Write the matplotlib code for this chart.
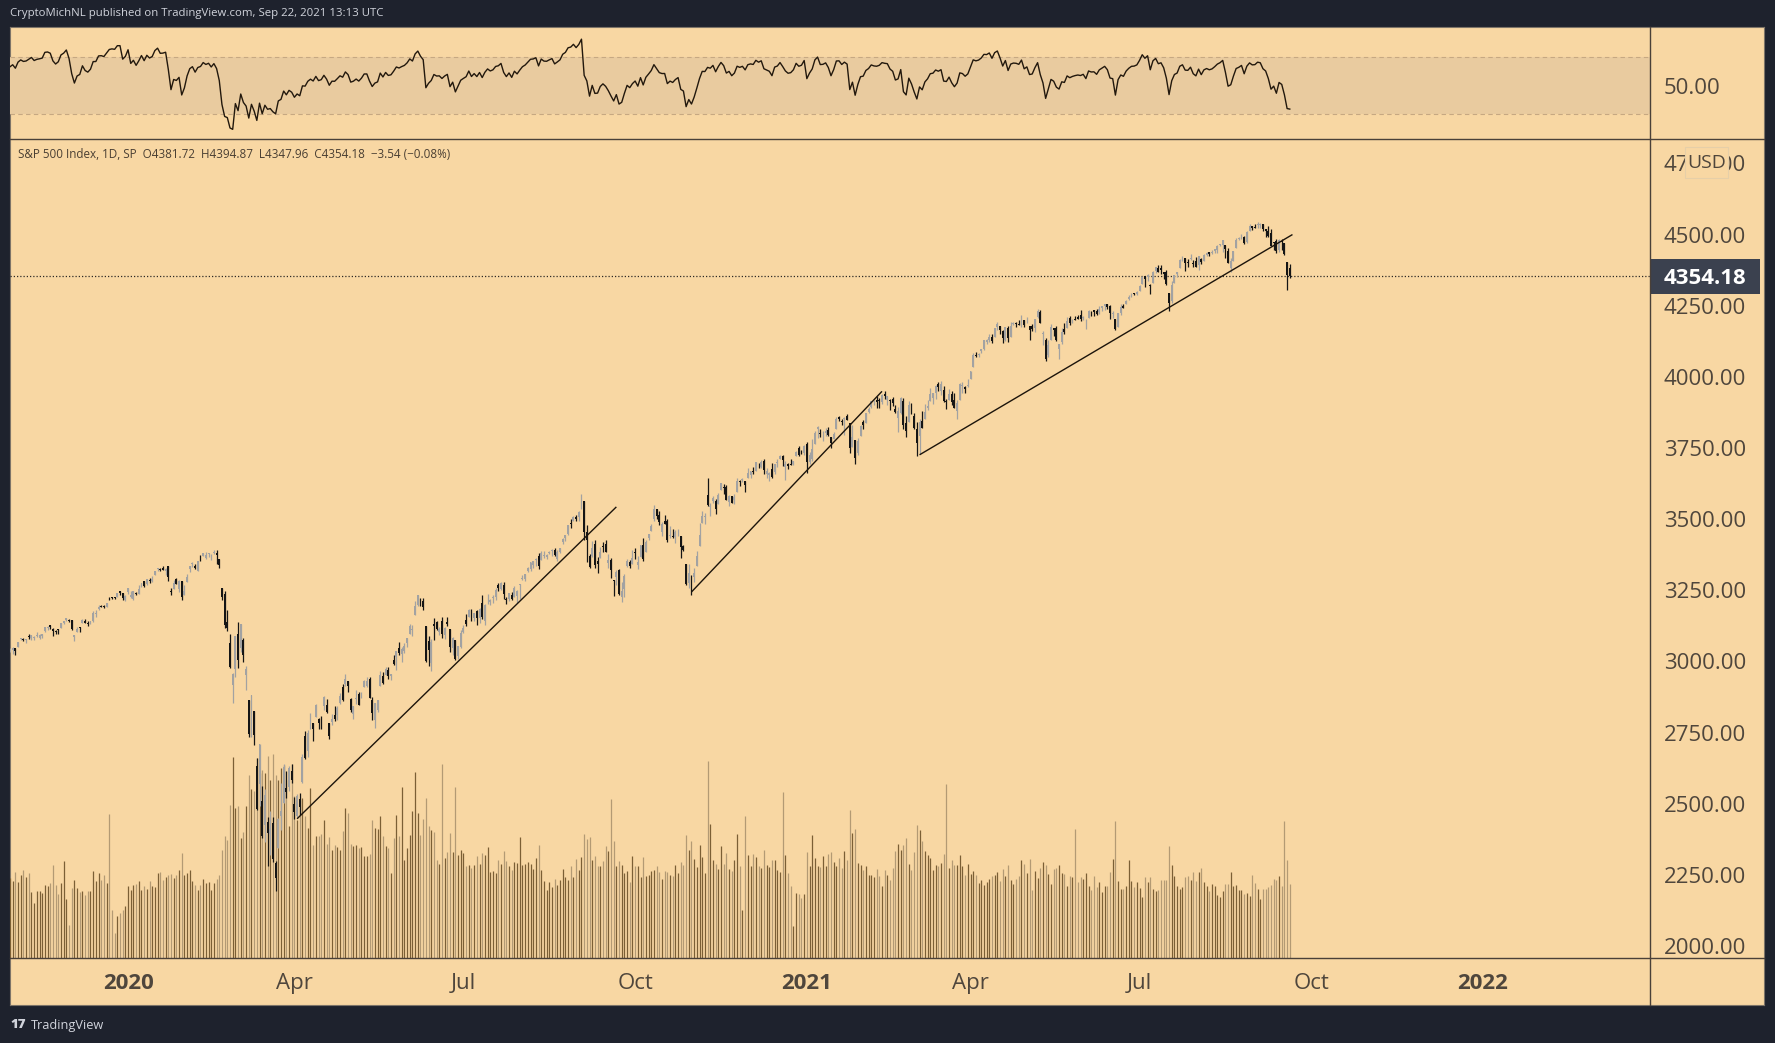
import numpy as np
import pandas as pd
import matplotlib
matplotlib.use("Agg")
import matplotlib.pyplot as plt
from matplotlib.patches import Rectangle
from matplotlib.lines import Line2D
import matplotlib.transforms as mtransforms

plt.rcParams['font.family'] = ['Open Sans', 'DejaVu Sans']

# ---------------- DATA ----------------
holidays = ['2019-11-28', '2019-12-25', '2020-01-01', '2020-01-20', '2020-02-17', '2020-04-10',
            '2020-05-25', '2020-07-03', '2020-09-07', '2020-11-26', '2020-12-25', '2021-01-01',
            '2021-01-18', '2021-02-15', '2021-04-02', '2021-05-31', '2021-07-05', '2021-09-06',
            '2021-11-25', '2021-12-24']
first_day = '2019-10-29'

# closes before the first visible bar (used only to warm up the RSI)
rsi_seed_closes = [2940.25, 2887.61, 2910.63, 2952.01, 2938.79, 2893.06, 2919.40, 2938.13, 2970.27, 2966.15,
                   2995.68, 2989.69, 2997.95, 2986.20, 3006.72, 2995.99, 3004.52, 3010.29, 3022.55, 3039.42]

opens = [
    3035, 3039, 3047,
    3050, 3078, 3080, 3076, 3087, 3081, 3081, 3089, 3084, 3091, 3107, 3118, 3128, 3115, 3108, 3112, 3118, 3135, 3145, 3147,
    3144, 3087, 3103, 3119, 3134, 3141, 3135, 3135, 3141, 3166, 3183, 3195, 3195, 3192, 3223, 3226, 3225, 3227, 3247, 3240, 3216,
    3245, 3226, 3218, 3242, 3238, 3267, 3281, 3271, 3285, 3282, 3302, 3324, 3321, 3330, 3316, 3334, 3248, 3255, 3289, 3256, 3282,
    3235, 3280, 3324, 3344, 3335, 3319, 3365, 3370, 3365, 3378, 3369, 3381, 3380, 3360, 3258, 3238, 3140, 3063, 2917,
    2974, 3096, 3046, 3075, 2954, 2863, 2813, 2825, 2631, 2569, 2509, 2425, 2436, 2394, 2431, 2291, 2345, 2458, 2502, 2556, 2558, 2614,
    2499, 2458, 2515, 2578, 2738, 2686, 2776, 2782, 2805, 2797, 2800, 2843, 2846, 2785, 2787, 2810, 2813, 2855, 2909, 2919, 2930,
    2869, 2815, 2868, 2884, 2879, 2909, 2915, 2939, 2865, 2795, 2829, 2913, 2948, 2953, 2970, 2948, 3005, 3016, 3047, 3026,
    3038, 3064, 3098, 3112, 3163, 3199, 3213, 3213, 3123, 3072, 2993, 3131, 3137, 3102, 3141, 3094, 3139, 3115, 3047, 3074, 3018, 3051,
    3105, 3144, 3156, 3166, 3154, 3176, 3152, 3205, 3142, 3225, 3209, 3224, 3225, 3268, 3255, 3269, 3218, 3219, 3234, 3228, 3231, 3270,
    3288, 3289, 3317, 3323, 3340, 3357, 3370, 3355, 3372, 3368, 3380, 3387, 3392, 3360, 3386, 3418, 3435, 3449, 3486, 3494, 3509,
    3507, 3543, 3564, 3454, 3371, 3369, 3412, 3353, 3364, 3407, 3411, 3347, 3357, 3285, 3295, 3320, 3226, 3256, 3334, 3350, 3342,
    3385, 3339, 3367, 3408, 3384, 3434, 3459, 3500, 3535, 3515, 3453, 3493, 3494, 3439, 3440, 3438, 3464, 3441, 3404, 3342, 3277, 3294,
    3296, 3336, 3406, 3486, 3509, 3584, 3543, 3563, 3562, 3552, 3601, 3610, 3612, 3559, 3580, 3566, 3594, 3635, 3638, 3634,
    3645, 3654, 3669, 3670, 3694, 3683, 3706, 3659, 3656, 3676, 3667, 3696, 3713, 3722, 3684, 3694, 3693, 3694, 3723, 3750, 3736, 3734,
    3764, 3699, 3712, 3764, 3816, 3803, 3801, 3802, 3814, 3788, 3782, 3816, 3858, 3844, 3851, 3863, 3837, 3755, 3778,
    3731, 3792, 3840, 3837, 3878, 3893, 3910, 3920, 3917, 3911, 3940, 3918, 3915, 3922, 3886, 3857, 3874, 3916, 3839,
    3842, 3903, 3863, 3818, 3793, 3844, 3852, 3891, 3916, 3925, 3943, 3974, 3949, 3953, 3914, 3917, 3938, 3920, 3879, 3917, 3969, 3964, 3967,
    3993, 4035, 4076, 4075, 4090, 4097, 4124, 4130, 4141, 4139, 4175, 4179, 4160, 4128, 4171, 4139, 4185, 4188, 4185, 4207, 4198,
    4191, 4179, 4178, 4170, 4210, 4228, 4150, 4131, 4075, 4129, 4170, 4170, 4098, 4121, 4169, 4170, 4205, 4192, 4201, 4210,
    4217, 4207, 4191, 4207, 4229, 4234, 4233, 4229, 4243, 4248, 4255, 4248, 4221, 4204, 4174, 4225, 4249, 4256, 4274, 4285, 4293, 4291,
    4300, 4326, 4356, 4351, 4321, 4329, 4372, 4382, 4381, 4369, 4368, 4296, 4266, 4331, 4361, 4382, 4409, 4416, 4402, 4413, 4396,
    4406, 4392, 4415, 4408, 4429, 4437, 4435, 4442, 4446, 4464, 4462, 4462, 4441, 4383, 4406, 4451, 4485, 4490, 4493, 4474, 4514, 4529,
    4528, 4534, 4532, 4536, 4518, 4514, 4506, 4474, 4479, 4447, 4477, 4470, 4402, 4381.72,
]

highs = [
    3047, 3050, 3047,
    3067, 3084, 3083, 3079, 3098, 3094, 3089, 3102, 3098, 3098, 3121, 3124, 3128, 3119, 3110, 3113, 3134, 3142, 3154, 3150,
    3145, 3094, 3120, 3120, 3150, 3148, 3143, 3143, 3176, 3182, 3198, 3198, 3199, 3206, 3226, 3228, 3226, 3240, 3248, 3240, 3232,
    3258, 3246, 3247, 3245, 3268, 3275, 3282, 3288, 3294, 3299, 3317, 3330, 3329, 3337, 3327, 3334, 3258, 3285, 3293, 3285, 3282,
    3268, 3306, 3337, 3348, 3341, 3352, 3375, 3381, 3386, 3381, 3376, 3393, 3390, 3360, 3259, 3247, 3182, 3098, 2960,
    3091, 3137, 3130, 3083, 2985, 2863, 2883, 2825, 2660, 2711, 2562, 2553, 2453, 2473, 2453, 2300, 2450, 2572, 2638, 2616, 2631, 2641,
    2523, 2534, 2538, 2676, 2756, 2760, 2818, 2782, 2851, 2801, 2807, 2879, 2868, 2785, 2815, 2844, 2842, 2888, 2922, 2955, 2930,
    2870, 2845, 2898, 2892, 2892, 2933, 2945, 2945, 2875, 2853, 2865, 2968, 2964, 2981, 2979, 2956, 3021, 3036, 3068, 3049,
    3063, 3081, 3130, 3129, 3212, 3233, 3223, 3223, 3124, 3089, 3079, 3153, 3141, 3121, 3156, 3120, 3155, 3115, 3087, 3074, 3054, 3112,
    3128, 3165, 3183, 3184, 3171, 3180, 3186, 3235, 3200, 3238, 3220, 3233, 3258, 3277, 3279, 3280, 3228, 3241, 3244, 3264, 3250, 3273,
    3302, 3307, 3331, 3351, 3353, 3364, 3381, 3387, 3388, 3378, 3387, 3395, 3399, 3390, 3399, 3432, 3444, 3481, 3501, 3510, 3514,
    3528, 3588, 3564, 3479, 3379, 3424, 3425, 3368, 3402, 3419, 3428, 3376, 3363, 3285, 3321, 3323, 3278, 3306, 3360, 3357, 3393,
    3397, 3369, 3409, 3432, 3426, 3447, 3482, 3550, 3535, 3527, 3489, 3515, 3502, 3476, 3465, 3461, 3466, 3441, 3409, 3342, 3341, 3305,
    3330, 3389, 3486, 3529, 3521, 3646, 3557, 3581, 3570, 3593, 3628, 3624, 3620, 3586, 3582, 3589, 3643, 3636, 3644, 3634,
    3678, 3670, 3682, 3700, 3697, 3708, 3712, 3678, 3666, 3698, 3695, 3711, 3726, 3726, 3703, 3698, 3711, 3704, 3740, 3756, 3744, 3760,
    3770, 3737, 3783, 3811, 3827, 3817, 3810, 3820, 3823, 3788, 3805, 3859, 3862, 3852, 3860, 3871, 3837, 3830, 3778,
    3784, 3831, 3847, 3872, 3894, 3916, 3919, 3931, 3925, 3938, 3950, 3933, 3921, 3930, 3902, 3895, 3928, 3925, 3861,
    3915, 3907, 3874, 3843, 3852, 3881, 3904, 3918, 3960, 3944, 3970, 3982, 3984, 3969, 3922, 3956, 3950, 3942, 3920, 3978, 3981, 3969, 3994,
    4021, 4084, 4086, 4084, 4099, 4130, 4132, 4149, 4151, 4173, 4192, 4180, 4164, 4175, 4179, 4194, 4194, 4193, 4201, 4218, 4199,
    4210, 4180, 4187, 4202, 4238, 4236, 4162, 4135, 4131, 4184, 4172, 4179, 4117, 4172, 4188, 4209, 4213, 4202, 4213, 4218,
    4234, 4215, 4204, 4234, 4232, 4236, 4237, 4249, 4249, 4255, 4257, 4252, 4233, 4204, 4226, 4256, 4256, 4271, 4286, 4293, 4296, 4302,
    4321, 4355, 4356, 4361, 4325, 4372, 4386, 4393, 4393, 4370, 4376, 4296, 4337, 4359, 4369, 4415, 4423, 4416, 4415, 4430, 4412,
    4422, 4424, 4417, 4430, 4440, 4440, 4446, 4449, 4462, 4468, 4480, 4462, 4452, 4418, 4442, 4489, 4492, 4502, 4495, 4513, 4537, 4531,
    4537, 4545, 4541, 4536, 4521, 4529, 4521, 4475, 4485, 4486, 4485, 4471, 4403, 4394.87,
]

lows = [
    3034, 3026, 3023,
    3050, 3075, 3072, 3065, 3080, 3074, 3076, 3085, 3078, 3083, 3102, 3111, 3114, 3091, 3095, 3098, 3117, 3131, 3143, 3139,
    3110, 3070, 3103, 3102, 3134, 3135, 3126, 3133, 3138, 3156, 3182, 3191, 3189, 3191, 3216, 3221, 3221, 3227, 3235, 3216, 3213,
    3236, 3223, 3215, 3233, 3236, 3263, 3260, 3268, 3277, 3280, 3302, 3318, 3316, 3320, 3302, 3281, 3234, 3253, 3271, 3243, 3215,
    3235, 3280, 3313, 3333, 3323, 3317, 3353, 3369, 3361, 3366, 3356, 3378, 3341, 3328, 3215, 3118, 3108, 2977, 2855,
    2946, 2977, 3034, 2999, 2901, 2734, 2735, 2707, 2478, 2493, 2380, 2367, 2281, 2319, 2295, 2192, 2345, 2407, 2501, 2520, 2545, 2572,
    2447, 2455, 2459, 2574, 2657, 2664, 2762, 2721, 2805, 2761, 2764, 2830, 2820, 2727, 2776, 2792, 2795, 2852, 2860, 2912, 2892,
    2822, 2798, 2852, 2848, 2871, 2909, 2909, 2870, 2793, 2766, 2821, 2913, 2922, 2953, 2939, 2934, 2988, 2970, 3024, 2999,
    3031, 3052, 3098, 3091, 3163, 3196, 3194, 3181, 2999, 2984, 2965, 3076, 3109, 3094, 3084, 3080, 3123, 3033, 3024, 3005, 3010, 3047,
    3101, 3124, 3156, 3142, 3141, 3128, 3136, 3150, 3127, 3201, 3198, 3205, 3215, 3247, 3251, 3221, 3201, 3214, 3217, 3228, 3204, 3220,
    3285, 3283, 3313, 3319, 3329, 3335, 3326, 3355, 3364, 3361, 3379, 3371, 3369, 3354, 3380, 3414, 3422, 3444, 3468, 3494, 3494,
    3494, 3535, 3427, 3349, 3330, 3367, 3330, 3311, 3364, 3385, 3383, 3328, 3293, 3230, 3270, 3232, 3209, 3228, 3333, 3328, 3341,
    3361, 3323, 3367, 3354, 3384, 3428, 3458, 3495, 3500, 3480, 3441, 3483, 3420, 3435, 3433, 3415, 3440, 3364, 3388, 3268, 3259, 3233,
    3279, 3336, 3405, 3486, 3484, 3547, 3511, 3557, 3519, 3552, 3601, 3588, 3567, 3545, 3556, 3553, 3594, 3618, 3630, 3594,
    3645, 3644, 3657, 3670, 3679, 3678, 3660, 3646, 3633, 3645, 3659, 3684, 3711, 3685, 3636, 3676, 3689, 3689, 3723, 3723, 3730, 3726,
    3663, 3695, 3705, 3764, 3786, 3790, 3776, 3792, 3792, 3750, 3780, 3816, 3845, 3830, 3797, 3847, 3732, 3755, 3694,
    3725, 3792, 3816, 3837, 3874, 3892, 3902, 3890, 3891, 3906, 3923, 3901, 3885, 3898, 3874, 3805, 3869, 3815, 3789,
    3842, 3868, 3818, 3723, 3730, 3819, 3852, 3885, 3916, 3906, 3923, 3950, 3935, 3910, 3886, 3917, 3901, 3889, 3853, 3917, 3944, 3944, 3966,
    3993, 4035, 4069, 4068, 4084, 4095, 4114, 4124, 4120, 4139, 4164, 4150, 4119, 4126, 4124, 4139, 4182, 4175, 4181, 4176, 4175,
    4188, 4128, 4161, 4158, 4208, 4188, 4111, 4057, 4069, 4129, 4143, 4127, 4062, 4117, 4151, 4170, 4183, 4188, 4198, 4203,
    4197, 4199, 4167, 4207, 4215, 4214, 4219, 4221, 4233, 4235, 4238, 4203, 4206, 4165, 4174, 4218, 4241, 4255, 4271, 4281, 4286, 4288,
    4300, 4326, 4314, 4336, 4290, 4329, 4365, 4368, 4362, 4345, 4323, 4233, 4259, 4329, 4350, 4381, 4406, 4373, 4387, 4411, 4387,
    4385, 4374, 4398, 4407, 4424, 4424, 4430, 4436, 4436, 4461, 4437, 4418, 4399, 4367, 4406, 4451, 4482, 4485, 4468, 4472, 4514, 4515,
    4522, 4524, 4522, 4513, 4493, 4493, 4458, 4446, 4435, 4438, 4447, 4427, 4306, 4347.96,
]

closes = [
    3036.89, 3046.77, 3037.56,
    3066.91, 3078.27, 3074.62, 3076.78, 3085.18, 3093.08, 3087.01, 3091.84, 3094.04, 3096.63, 3120.46, 3122.03, 3120.18, 3108.46, 3103.54, 3110.29, 3133.64, 3140.52, 3153.63, 3140.98,
    3113.87, 3093.20, 3112.76, 3117.43, 3145.91, 3135.96, 3132.52, 3141.63, 3168.57, 3168.80, 3191.45, 3192.52, 3191.14, 3205.37, 3221.22, 3224.01, 3223.38, 3239.91, 3240.02, 3221.29, 3230.78,
    3257.85, 3234.85, 3246.28, 3237.18, 3253.05, 3274.70, 3265.35, 3288.13, 3283.15, 3289.29, 3316.81, 3329.62, 3320.79, 3321.75, 3325.54, 3295.47, 3243.63, 3276.24, 3273.40, 3283.66, 3225.52,
    3248.92, 3297.59, 3334.69, 3345.78, 3327.71, 3352.09, 3357.75, 3379.45, 3373.94, 3380.16, 3370.29, 3386.15, 3373.23, 3337.75, 3225.89, 3128.21, 3116.39, 2978.76, 2954.22,
    3090.23, 3003.37, 3130.12, 3023.94, 2972.37, 2746.56, 2882.23, 2741.38, 2480.64, 2711.02, 2386.13, 2529.19, 2398.10, 2409.39, 2304.92, 2237.40, 2447.33, 2475.56, 2630.07, 2541.47, 2626.65, 2584.59,
    2470.50, 2526.90, 2488.65, 2663.68, 2659.41, 2749.98, 2789.82, 2761.63, 2846.06, 2783.36, 2799.55, 2874.56, 2823.16, 2736.56, 2799.31, 2797.80, 2836.74, 2878.48, 2863.39, 2939.51, 2912.43,
    2830.71, 2842.74, 2868.44, 2848.42, 2881.19, 2929.80, 2930.19, 2870.12, 2820.00, 2852.50, 2863.70, 2953.91, 2922.94, 2971.61, 2948.51, 2955.45, 2991.77, 3036.13, 3029.73, 3044.31,
    3055.73, 3080.82, 3122.87, 3112.35, 3193.93, 3232.39, 3207.18, 3190.14, 3002.10, 3041.31, 3066.59, 3124.74, 3113.49, 3115.34, 3097.74, 3117.86, 3131.29, 3050.33, 3083.76, 3009.05, 3053.24, 3100.29,
    3115.86, 3130.01, 3179.72, 3145.32, 3169.94, 3152.05, 3185.04, 3155.22, 3197.52, 3226.56, 3215.57, 3224.73, 3251.84, 3257.30, 3276.02, 3235.66, 3215.63, 3239.41, 3218.44, 3258.44, 3246.22, 3271.12,
    3294.61, 3306.51, 3327.77, 3349.16, 3351.28, 3360.47, 3333.69, 3380.35, 3373.43, 3372.85, 3381.99, 3389.78, 3374.85, 3385.51, 3397.16, 3431.28, 3443.62, 3478.73, 3484.55, 3508.01, 3500.31,
    3526.65, 3580.84, 3455.06, 3426.96, 3331.84, 3398.96, 3339.19, 3340.97, 3383.54, 3401.20, 3385.49, 3357.01, 3319.47, 3281.06, 3315.57, 3236.92, 3246.59, 3298.46, 3351.60, 3335.47, 3363.00,
    3380.80, 3348.42, 3408.60, 3360.97, 3419.44, 3446.83, 3477.14, 3534.22, 3511.93, 3488.67, 3483.34, 3483.81, 3426.92, 3443.12, 3435.56, 3453.49, 3465.39, 3400.97, 3390.68, 3271.03, 3310.11, 3269.96,
    3310.24, 3369.16, 3443.44, 3510.45, 3509.44, 3550.50, 3545.53, 3572.66, 3537.01, 3585.15, 3626.91, 3609.53, 3567.79, 3581.87, 3557.54, 3577.59, 3635.41, 3629.65, 3638.35, 3621.63,
    3662.45, 3669.01, 3666.72, 3699.12, 3691.96, 3702.25, 3672.82, 3668.10, 3663.46, 3647.49, 3694.62, 3701.17, 3722.48, 3709.41, 3694.92, 3687.26, 3690.01, 3703.06, 3735.36, 3727.04, 3732.04, 3756.07,
    3700.65, 3726.86, 3748.14, 3803.79, 3824.68, 3799.61, 3801.19, 3809.84, 3795.54, 3768.25, 3798.91, 3851.85, 3853.07, 3841.47, 3855.36, 3849.62, 3750.77, 3787.38, 3714.24,
    3773.86, 3826.31, 3830.17, 3871.74, 3886.83, 3915.59, 3911.23, 3909.88, 3916.38, 3934.83, 3932.59, 3931.33, 3913.97, 3906.71, 3876.50, 3881.37, 3925.43, 3829.34, 3811.15,
    3901.82, 3870.29, 3819.72, 3768.47, 3841.94, 3821.35, 3875.44, 3898.81, 3939.34, 3943.34, 3968.94, 3962.71, 3974.12, 3915.46, 3913.10, 3940.59, 3910.52, 3889.14, 3909.52, 3974.54, 3971.09, 3958.55, 3972.89,
    4019.87, 4077.91, 4073.94, 4079.95, 4097.17, 4128.80, 4127.99, 4141.59, 4124.66, 4170.42, 4185.47, 4163.26, 4134.94, 4173.42, 4134.98, 4180.17, 4187.62, 4186.72, 4183.18, 4211.47, 4181.17,
    4192.66, 4164.66, 4167.59, 4201.62, 4232.60, 4188.43, 4152.10, 4063.04, 4112.50, 4173.85, 4163.29, 4127.83, 4115.68, 4159.12, 4155.86, 4197.05, 4188.13, 4195.99, 4200.88, 4204.11,
    4202.04, 4208.12, 4192.85, 4229.89, 4226.52, 4227.26, 4219.55, 4239.18, 4247.44, 4255.15, 4246.59, 4223.70, 4221.86, 4166.45, 4224.79, 4246.44, 4241.84, 4266.49, 4280.70, 4290.61, 4291.80, 4297.50,
    4319.94, 4352.34, 4343.54, 4358.13, 4320.82, 4369.55, 4384.63, 4369.21, 4374.30, 4360.03, 4327.16, 4258.49, 4323.06, 4358.69, 4367.48, 4411.79, 4422.30, 4401.46, 4400.64, 4419.15, 4395.26,
    4387.16, 4423.15, 4402.66, 4429.10, 4436.52, 4432.35, 4436.75, 4447.70, 4460.83, 4468.00, 4479.71, 4448.08, 4400.27, 4405.80, 4441.67, 4479.53, 4486.23, 4496.19, 4470.00, 4509.37, 4528.79, 4522.68,
    4524.09, 4536.95, 4535.43, 4520.03, 4514.07, 4493.28, 4458.58, 4468.73, 4443.05, 4480.70, 4473.75, 4432.99, 4357.72, 4354.18,
]

# volume (relative units)
volumes = [
    80, 77, 86,
    76, 83, 88, 81, 85, 66, 55, 67, 67, 65, 73, 72, 75, 93, 73, 64, 75, 97, 59, 33,
    70, 78, 70, 66, 67, 63, 67, 67, 87, 77, 85, 78, 83, 75, 144, 48, 25, 42, 45, 48, 52,
    72, 68, 73, 74, 77, 68, 72, 69, 77, 72, 71, 85, 86, 78, 81, 83, 84, 80, 83, 88, 105,
    83, 85, 88, 77, 73, 68, 73, 79, 75, 76, 68, 75, 79, 83, 108, 122, 118, 153, 201,
    150, 152, 120, 126, 152, 183, 169, 167, 200, 185, 188, 185, 202, 178, 204, 183, 178, 190, 193, 178, 132, 194,
    162, 138, 158, 160, 142, 130, 170, 113, 122, 122, 124, 138, 114, 121, 108, 113, 111, 108, 127, 150, 145,
    114, 112, 113, 110, 111, 102, 102, 104, 138, 130, 129, 142, 122, 112, 110, 85, 120, 143, 122, 171,
    98, 110, 123, 147, 186, 145, 123, 139, 160, 132, 128, 126, 98, 94, 194, 100, 106, 125, 106, 171, 103, 108,
    105, 92, 93, 90, 93, 102, 94, 105, 103, 111, 86, 87, 85, 98, 94, 107, 97, 92, 88, 96, 95, 121,
    93, 94, 96, 94, 89, 100, 113, 88, 77, 68, 76, 71, 79, 73, 78, 89, 81, 78, 92, 81, 99,
    88, 101, 124, 119, 121, 98, 102, 92, 92, 97, 112, 107, 159, 117, 92, 97, 93, 85, 87, 76, 102,
    92, 92, 81, 101, 82, 83, 87, 88, 92, 86, 79, 87, 86, 83, 82, 93, 85, 96, 93, 123, 108, 117,
    99, 91, 113, 101, 85, 197, 134, 98, 94, 89, 112, 94, 105, 89, 87, 98, 124, 92, 48, 142,
    103, 92, 104, 101, 92, 90, 108, 93, 91, 98, 98, 88, 86, 166, 103, 85, 72, 32, 65, 64, 60, 64,
    106, 92, 123, 100, 92, 91, 102, 92, 104, 106, 96, 92, 100, 90, 107, 98, 148, 125, 129,
    95, 93, 88, 92, 83, 83, 81, 89, 82, 72, 88, 83, 78, 90, 107, 114, 108, 113, 120,
    94, 88, 106, 133, 128, 117, 107, 103, 100, 88, 93, 92, 95, 104, 174, 90, 98, 93, 93, 103, 92, 83, 94,
    84, 87, 83, 75, 78, 73, 76, 79, 82, 83, 86, 77, 89, 82, 93, 78, 74, 79, 82, 98, 94,
    85, 99, 68, 87, 80, 90, 96, 93, 84, 74, 89, 90, 93, 85, 84, 72, 82, 81, 129, 76,
    81, 79, 85, 72, 68, 82, 71, 76, 66, 72, 72, 86, 99, 137, 77, 69, 69, 72, 98, 77, 71, 76,
    70, 61, 81, 76, 81, 69, 67, 68, 78, 78, 78, 112, 93, 82, 72, 69, 71, 81, 82, 78, 86,
    77, 86, 90, 76, 72, 67, 74, 72, 63, 61, 67, 74, 74, 86, 72, 73, 68, 68, 64, 65, 62, 83,
    75, 69, 59, 69, 69, 71, 73, 79, 78, 82, 72, 137, 98, 74,
]

# trendlines drawn on the chart: (start date, start price, end date, end price)
trendlines = [
    ('2020-04-02', 2447, '2020-09-22', 3543),
    ('2020-10-30', 3244, '2021-02-12', 3949),
    ('2021-03-05', 3726, '2021-09-22', 4500),
]

price_ticks = [2000, 2250, 2500, 2750, 3000, 3250, 3500, 3750, 4000, 4250, 4500, 4750]
time_tick_months = ['2020-01', '2020-04', '2020-07', '2020-10', '2021-01', '2021-04', '2021-07', '2021-10', '2022-01']
time_tick_labels = ['2020', 'Apr', 'Jul', 'Oct', '2021', 'Apr', 'Jul', 'Oct', '2022']
symbol_title = 'S&P 500 Index, 1D, SP'
publish_note = 'CryptoMichNL published on TradingView.com, Sep 22, 2021 13:13 UTC'
rsi_len = 14

n = len(closes)
assert len(opens) == n and len(highs) == n and len(lows) == n and len(volumes) == n, \
    (len(opens), len(highs), len(lows), len(closes), len(volumes))

# ---------------- COLOURS ----------------
DARK = '#1e222d'
PEACH = '#f8d7a3'
BAND = '#e9cb9f'
UP = '#a2a2a2'
DOWN = '#151515'
VOL_UP = '#7b5f35'
VOL_DN = '#b39a74'
TXT = '#4f463c'
SEP = '#4a4038'

# ---------------- CALENDAR ----------------
cal = pd.bdate_range(first_day, '2022-02-28', freq='C', holidays=holidays)
def date_index(d):
    return int(cal.searchsorted(pd.Timestamp(d)))

o = np.array(opens, float); h = np.array(highs, float)
l = np.array(lows, float); c = np.array(closes, float)
v = np.array(volumes, float)
x = np.arange(n)

# RSI (Wilder)
allc = np.concatenate([np.array(rsi_seed_closes, float), c])
d = np.diff(allc)
g = np.where(d > 0, d, 0.0); ls = np.where(d < 0, -d, 0.0)
rsi_full = np.full(len(allc), np.nan)
ag = g[:rsi_len].mean(); al = ls[:rsi_len].mean()
rsi_full[rsi_len] = 100 - 100 / (1 + ag / al)
for i in range(rsi_len + 1, len(allc)):
    ag = (ag * (rsi_len - 1) + g[i - 1]) / rsi_len
    al = (al * (rsi_len - 1) + ls[i - 1]) / rsi_len
    rsi_full[i] = 100 - 100 / (1 + ag / al)
rsi_vals = rsi_full[len(rsi_seed_closes):]

# ---------------- FIGURE ----------------
W, H = 1775, 1043
fig = plt.figure(figsize=(W / 100, H / 100), dpi=100)
fig.patch.set_facecolor(DARK)

def rect(x0, y0, x1, y1):
    return [x0 / W, 1 - y1 / H, (x1 - x0) / W, (y1 - y0) / H]

frame = fig.add_axes(rect(10, 27, 1764, 1005), zorder=0)
frame.set_facecolor(PEACH)
frame.set_xticks([]); frame.set_yticks([])
for s in frame.spines.values():
    s.set_color('#7d7468'); s.set_linewidth(0.8)

PLOT_L, PLOT_R = 10, 1650
rsi_ax = fig.add_axes(rect(PLOT_L, 27, PLOT_R, 138.5), zorder=2)
vol_ax = fig.add_axes(rect(PLOT_L, 138.5, PLOT_R, 958), zorder=1, sharex=rsi_ax)
ax = fig.add_axes(rect(PLOT_L, 138.5, PLOT_R, 958), zorder=3, sharex=rsi_ax)
for a in (rsi_ax, vol_ax, ax):
    a.set_facecolor('none')
    for s in a.spines.values():
        s.set_visible(False)

x_left = 0.0
x_right = x_left + (PLOT_R - PLOT_L) / 2.683
ax.set_xlim(x_left, x_right)

# volume
vcol = np.where(c >= o, VOL_UP, VOL_DN)
vol_ax.vlines(x, 0, v, colors=vcol, linewidth=0.9)
vol_ax.set_ylim(0, v.max() * 4.02)
vol_ax.axis('off')

# candles
ccol = np.where(c >= o, UP, DOWN)
wl = np.minimum(l, np.minimum(o, c)); wh = np.maximum(h, np.maximum(o, c))
ax.vlines(x, wl, wh, colors=ccol, linewidth=0.9, zorder=3)
bb = np.minimum(o, c); bh = np.maximum(np.abs(c - o), 3.0)
ax.bar(x, bh, width=0.72, bottom=bb, color=ccol, linewidth=0, zorder=4)

# trendlines
for d0, p0, d1, p1 in trendlines:
    ax.plot([date_index(d0), date_index(d1)], [p0, p1], color='#1c140b', linewidth=1.0, zorder=5,
            solid_capstyle='butt')

# last price line
last = c[-1]
ax.axhline(last, color='#2e2a26', linewidth=0.9, linestyle=(0, (1, 1.6)), zorder=2)

ax.set_ylim(1957.8, 4837.5)
ax.yaxis.tick_right()
ax.set_yticks(price_ticks)
ax.set_yticklabels([f'{p:.2f}' for p in price_ticks])
ax.tick_params(axis='y', length=0, pad=10, labelsize=16, labelcolor=TXT)

tick_pos = [date_index(m + '-01') for m in time_tick_months]
ax.set_xticks(tick_pos)
ax.set_xticklabels(time_tick_labels)
ax.tick_params(axis='x', length=0, pad=11, labelsize=16, labelcolor=TXT)
for lab in ax.get_xticklabels():
    if lab.get_text().isdigit():
        lab.set_fontweight('bold')

# RSI panel
rsi_ax.axhspan(30, 70, facecolor=BAND, edgecolor='none', zorder=0)
for lvl in (70, 30):
    rsi_ax.axhline(lvl, color='#c6a882', linewidth=0.8, linestyle=(0, (4, 3)), zorder=1)
rsi_ax.plot(x, rsi_vals, color='#22180d', linewidth=1.0, zorder=3)
rsi_ax.set_ylim(12.7, 91.5)
rsi_ax.yaxis.tick_right()
rsi_ax.set_yticks([50])
rsi_ax.set_yticklabels(['50.00'])
rsi_ax.tick_params(axis='y', length=0, pad=10, labelsize=16, labelcolor=TXT)
rsi_ax.tick_params(axis='x', length=0, labelbottom=False)

# current price tag on the scale
tr = mtransforms.blended_transform_factory(ax.transAxes, ax.transData)
ppx = (ax.get_ylim()[1] - ax.get_ylim()[0]) / (958 - 138.5)
tag_w = 110 / (PLOT_R - PLOT_L)
ax.add_patch(Rectangle((1.0, last - 17.5 * ppx), tag_w, 35 * ppx, transform=tr,
                       facecolor='#3b414f', edgecolor='none', clip_on=False, zorder=10))
ax.text(1.0 + 14 / (PLOT_R - PLOT_L), last, f'{last:.2f}', transform=tr, color='white',
        fontsize=16, fontweight='bold', va='center_baseline', ha='left', zorder=11, clip_on=False)

# USD badge over the top price label
fig.patches.append(Rectangle((1685 / W, 1 - 178 / H), 43 / W, 31 / H, transform=fig.transFigure,
                             facecolor=PEACH, edgecolor='#e6cfa8', linewidth=0.8, zorder=20))
fig.text(1706.5 / W, 1 - 163 / H, 'USD', fontsize=14, color=TXT, ha='center', va='center', zorder=21)

# separators
def fline(x0, y0, x1, y1, color=SEP, lw=1.0):
    fig.add_artist(Line2D([x0 / W, x1 / W], [1 - y0 / H, 1 - y1 / H], color=color, linewidth=lw,
                          transform=fig.transFigure, zorder=15))
fline(10, 138.5, 1764, 138.5)
fline(10, 958, 1764, 958)
fline(1650, 27, 1650, 1005)

# texts
fig.text(10 / W, 1 - 13.5 / H, publish_note, fontsize=8.2, color='#d1d4dc', ha='left', va='center')
fmt = lambda val: f'{val:.2f}'
chg = c[-1] - c[-2]
legend_txt = (f'{symbol_title}  O{fmt(o[-1])}  H{fmt(h[-1])}  L{fmt(l[-1])}  C{fmt(c[-1])}  '
              f'{chg:+.2f} ({chg / c[-2] * 100:+.2f}%)').replace('-', '\u2212')
fig.text(18 / W, 1 - 154 / H, legend_txt, fontsize=8.4, color='#4a3f33', ha='left', va='center', zorder=20)
fig.text(10 / W, 1 - 1025 / H, '17', fontsize=9.5, fontweight='heavy', color='#d1d4dc', ha='left', va='center')
fig.text(31 / W, 1 - 1025 / H, 'TradingView', fontsize=9.2, color='#d1d4dc', ha='left', va='center')

fig.savefig('out.png', dpi=100, facecolor=fig.get_facecolor())
